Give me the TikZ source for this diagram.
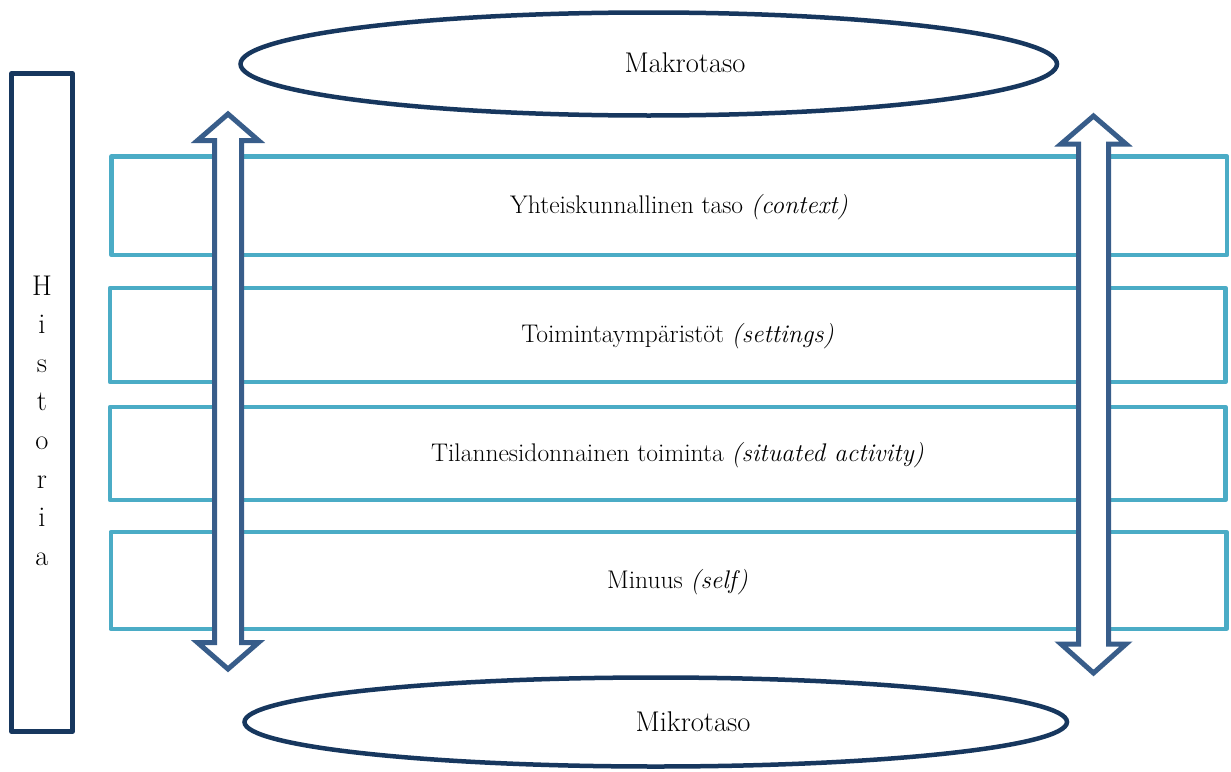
\documentclass[tikz,border=0pt]{standalone}
\usepackage{tikz}
\usetikzlibrary{shapes}

\begin{document}
\begin{tikzpicture}[x=1pt,y=-1pt,
  levelbox/.style={draw=levelColor,line width=4.5pt,line join=round,
    inner sep=0pt,minimum width=1115.5pt,rectangle},
  levelbubble/.style={draw=darkColor,line width=4.5pt,ellipse,inner sep=0pt},
  bigarrow/.style={draw=arrowColor,fill=white,line width=5pt,line join=miter},
  labeltext/.style={anchor=base,inner sep=0pt,outer sep=0pt,
    font=\fontsize{25.5}{31}\selectfont},
  bubbletext/.style={labeltext,font=\fontsize{28.5}{34}\selectfont}]
\definecolor{levelColor}{RGB}{75,172,198}
\definecolor{darkColor}{RGB}{23,55,94}
\definecolor{arrowColor}{RGB}{56,93,138}
\path[use as bounding box,fill=white] (0,0) rectangle (1231,771);

% levels
\node[levelbox,minimum height=98.5pt] (context) at (669.25,205.75) {};
\node[levelbox,minimum height=94pt] (settings) at (667.75,335) {};
\node[levelbox,minimum height=93pt] (activity) at (667.75,453.5) {};
\node[levelbox,minimum height=97pt] (self) at (668.5,580.5) {};

\node[labeltext] (contextlabel) at (679,213) {Yhteiskunnallinen taso \textit{(context)}};
\node[labeltext] (settingslabel) at (677.5,342.5) {Toimintaympäristöt \textit{(settings)}};
\node[labeltext] (activitylabel) at (677.5,461) {Tilannesidonnainen toiminta \textit{(situated activity)}};
\node[labeltext] (selflabel) at (677.5,588) {Minuus \textit{(self)}};

% arrows
\path[bigarrow] (228,114) -- (258.5,140.5) -- (241.5,140.5) -- (241.5,642.5) --
	(258.5,642.5) -- (228,669) -- (197.5,642.5) -- (214.5,642.5) --
	(214.5,140.5) -- (197.5,140.5) -- cycle;

\path[bigarrow] (1093.5,116) -- (1126,144) -- (1108.5,144) -- (1108.5,644) --
	(1126,644) -- (1093.5,673) -- (1061,644) -- (1078.5,644) --
	(1078.5,144) -- (1061,144) -- cycle;

% macro / micro
\node[levelbubble,minimum width=816.5pt,minimum height=103pt] (makro) at (648.75,64) {};
\node[bubbletext] (makrolabel) at (685,72) {Makrotaso};
\node[levelbubble,minimum width=822.5pt,minimum height=89pt] (mikro) at (655.75,722) {};
\node[bubbletext] (mikrolabel) at (693,731) {Mikrotaso};

% history
\node[draw=darkColor,line width=4.5pt,line join=round,inner sep=0pt,
  minimum width=61pt,minimum height=658pt] (historia) at (42,402.5) {};
\foreach \l [count=\i] in {H,i,s,t,o,r,i,a}
  \node[bubbletext] (hist\i) at (42,{295+38.6*(\i-1)}) {\l};
\end{tikzpicture}
\end{document}
